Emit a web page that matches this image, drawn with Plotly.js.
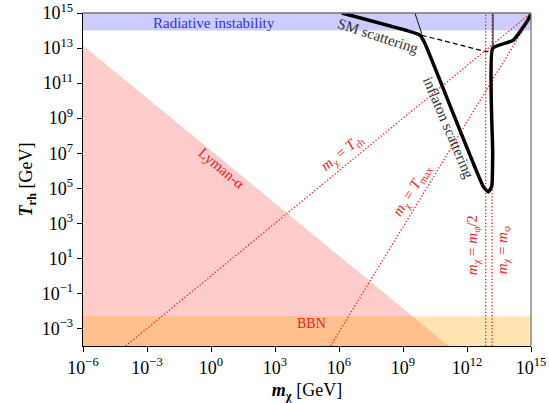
<!DOCTYPE html>
<html><head><meta charset="utf-8">
<script src="https://cdn.plot.ly/plotly-3.0.1.min.js"></script>
<style>body{margin:0;padding:0;background:#fff}#plot{width:549px;height:403px}</style>
</head><body><div id="plot"></div>
<script>
// Tick values and labels
const xTickVals = [1e-6, 1e-3, 1e0, 1e3, 1e6, 1e9, 1e12, 1e15];
const xTickText = ['10<sup>−6</sup>','10<sup>−3</sup>','10<sup>0</sup>','10<sup>3</sup>','10<sup>6</sup>','10<sup>9</sup>','10<sup>12</sup>','10<sup>15</sup>'];
const yTickVals = [1e-3, 1e-1, 1e1, 1e3, 1e5, 1e7, 1e9, 1e11, 1e13, 1e15];
const yTickText = ['10<sup>−3</sup>','10<sup>−1</sup>','10<sup>1</sup>','10<sup>3</sup>','10<sup>5</sup>','10<sup>7</sup>','10<sup>9</sup>','10<sup>11</sup>','10<sup>13</sup>','10<sup>15</sup>'];

// Excluded regions
const lymanX = [1e-6, 1.4e11, 1e-6];
const lymanY = [1.4e13, 1e-4, 1e-4];
const bbnX = [1e-6, 1e15, 1e15, 1e-6];
const bbnY = [1e-4, 1e-4, 5e-3, 5e-3];
const radX = [1e-6, 1e15, 1e15, 1e-6];
const radY = [1e14, 1e14, 1e15, 1e15];

// Reference lines
const trhX = [1e-4, 1e15];
const trhY = [1e-4, 1e15];
const tmaxX = [4.0e5, 1e15];
const tmaxY = [1e-4, 6e14];
const mphiHalfX = [7.5e12, 7.5e12];
const mphiX = [1.5e13, 1.5e13];
const vertY = [1e-4, 1e15];

// Thick relic-abundance curve
const thickX = [1.35e6, 1.5e9, 6.3e9, 1.07e10, 5.9e12, 1.0e13, 1.45e13, 1.6e13, 1.6e13, 1.45e14, 6.3e14, 1e15];
const thickY = [1e15, 1.0e14, 5.4e13, 1.8e13, 1.2e5, 6.2e4, 1.3e5, 1e7, 9.8e12, 2.75e13, 3.1e14, 8.5e14];
// Thin curves
const thinAX = [3.6e9, 4.7e9, 7.6e9];
const thinAY = [1e15, 3.8e14, 6.6e13];
const thinBX = [1.65e13, 1.65e13];
const thinBY = [1e15, 9.8e12];
// Dashed connection
const dashX = [7.6e9, 8.5e12, 1.65e13];
const dashY = [5.4e13, 6.0e12, 9.8e12];

const red = 'rgb(240,30,30)';
const dotted = {color: red, width: 1.3, dash: '1.3px,2px'};
const traces = [
  {x: lymanX, y: lymanY, fill: 'toself', fillcolor: 'rgba(255,0,0,0.2)', line: {width: 0}, mode: 'lines', hoverinfo: 'skip'},
  {x: bbnX, y: bbnY, fill: 'toself', fillcolor: 'rgba(255,165,0,0.3)', line: {width: 0}, mode: 'lines', hoverinfo: 'skip'},
  {x: radX, y: radY, fill: 'toself', fillcolor: 'rgba(0,0,255,0.2)', line: {width: 0}, mode: 'lines', hoverinfo: 'skip'},
  {x: trhX, y: trhY, mode: 'lines', line: dotted},
  {x: tmaxX, y: tmaxY, mode: 'lines', line: dotted},
  {x: mphiHalfX, y: vertY, mode: 'lines', line: dotted},
  {x: mphiX, y: vertY, mode: 'lines', line: dotted},
  {x: dashX, y: dashY, mode: 'lines', line: {color: 'black', width: 1.2, dash: '5px,3px'}},
  {x: thinAX, y: thinAY, mode: 'lines', line: {color: 'black', width: 1, shape: 'spline'}},
  {x: thinBX, y: thinBY, mode: 'lines', line: {color: 'black', width: 1}},
  {x: thickX, y: thickY, mode: 'lines', line: {color: 'black', width: 3.5, shape: 'spline', smoothing: 0.4}}
];

const serif = '"Liberation Serif", "DejaVu Serif", serif';
const ann = (x, y, text, angle, color, size) => ({x: x, y: y, xref: 'x', yref: 'y', text: text, textangle: angle, showarrow: false, font: {family: serif, size: size || 15, color: color}});

const layout = {
  width: 549, height: 403,
  margin: {l: 83, r: 18, t: 13, b: 57},
  paper_bgcolor: '#fff', plot_bgcolor: '#fff',
  showlegend: false,
  font: {family: serif, size: 18, color: '#000'},
  xaxis: {type: 'log', range: [-6, 15], tickvals: xTickVals, ticktext: xTickText, showgrid: false, zeroline: false,
    showline: true, linecolor: '#000', linewidth: 1.3, ticks: 'outside', ticklen: 5, tickcolor: '#000',
    tickfont: {family: serif, size: 18},
    title: {text: '<b><i>m</i><sub>χ</sub></b> [GeV]', font: {family: serif, size: 18}, standoff: 6}},
  yaxis: {type: 'log', range: [-4, 15], tickvals: yTickVals, ticktext: yTickText, showgrid: false, zeroline: false,
    showline: true, linecolor: '#000', linewidth: 1.3, ticks: 'outside', ticklen: 5, tickcolor: '#000',
    tickfont: {family: serif, size: 18},
    title: {text: '<b><i>T</i><sub>rh</sub></b> [GeV]', font: {family: serif, size: 18}, standoff: 4}},
  shapes: [
    {type: 'line', xref: 'paper', yref: 'paper', x0: 0, x1: 1, y0: 1, y1: 1, line: {color: '#777', width: 1.3}},
    {type: 'line', xref: 'paper', yref: 'paper', x0: 1, x1: 1, y0: 0, y1: 1, line: {color: '#777', width: 1.3}}
  ],
  annotations: [
    ann(0.13, 14.41, 'Radiative instability', 0, 'rgb(50,50,240)', 15),
    ann(7.83, 13.67, 'SM scattering', 18, '#333', 15),
    ann(11.11, 8.48, 'inflaton scattering', 67, '#333', 15),
    ann(0.47, 6.14, 'Lyman-α', 40, red, 15),
    ann(6.15, 7.0, '<i>m</i><sub>χ</sub> = <i>T</i><sub>rh</sub>', -39, red, 15),
    ann(9.45, 4.9, '<i>m</i><sub>χ</sub> = <i>T</i><sub>max</sub>', -58, red, 15),
    ann(12.28, 1.75, '<i>m</i><sub>χ</sub> = <i>m</i><sub>φ</sub>/2', -90, red, 15),
    ann(13.69, 1.46, '<i>m</i><sub>χ</sub> = <i>m</i><sub>φ</sub>', -90, red, 15),
    ann(4.72, -2.72, 'BBN', 0, red, 14)
  ]
};
Plotly.newPlot('plot', traces, layout, {displayModeBar: false, staticPlot: true});
</script></body></html>
